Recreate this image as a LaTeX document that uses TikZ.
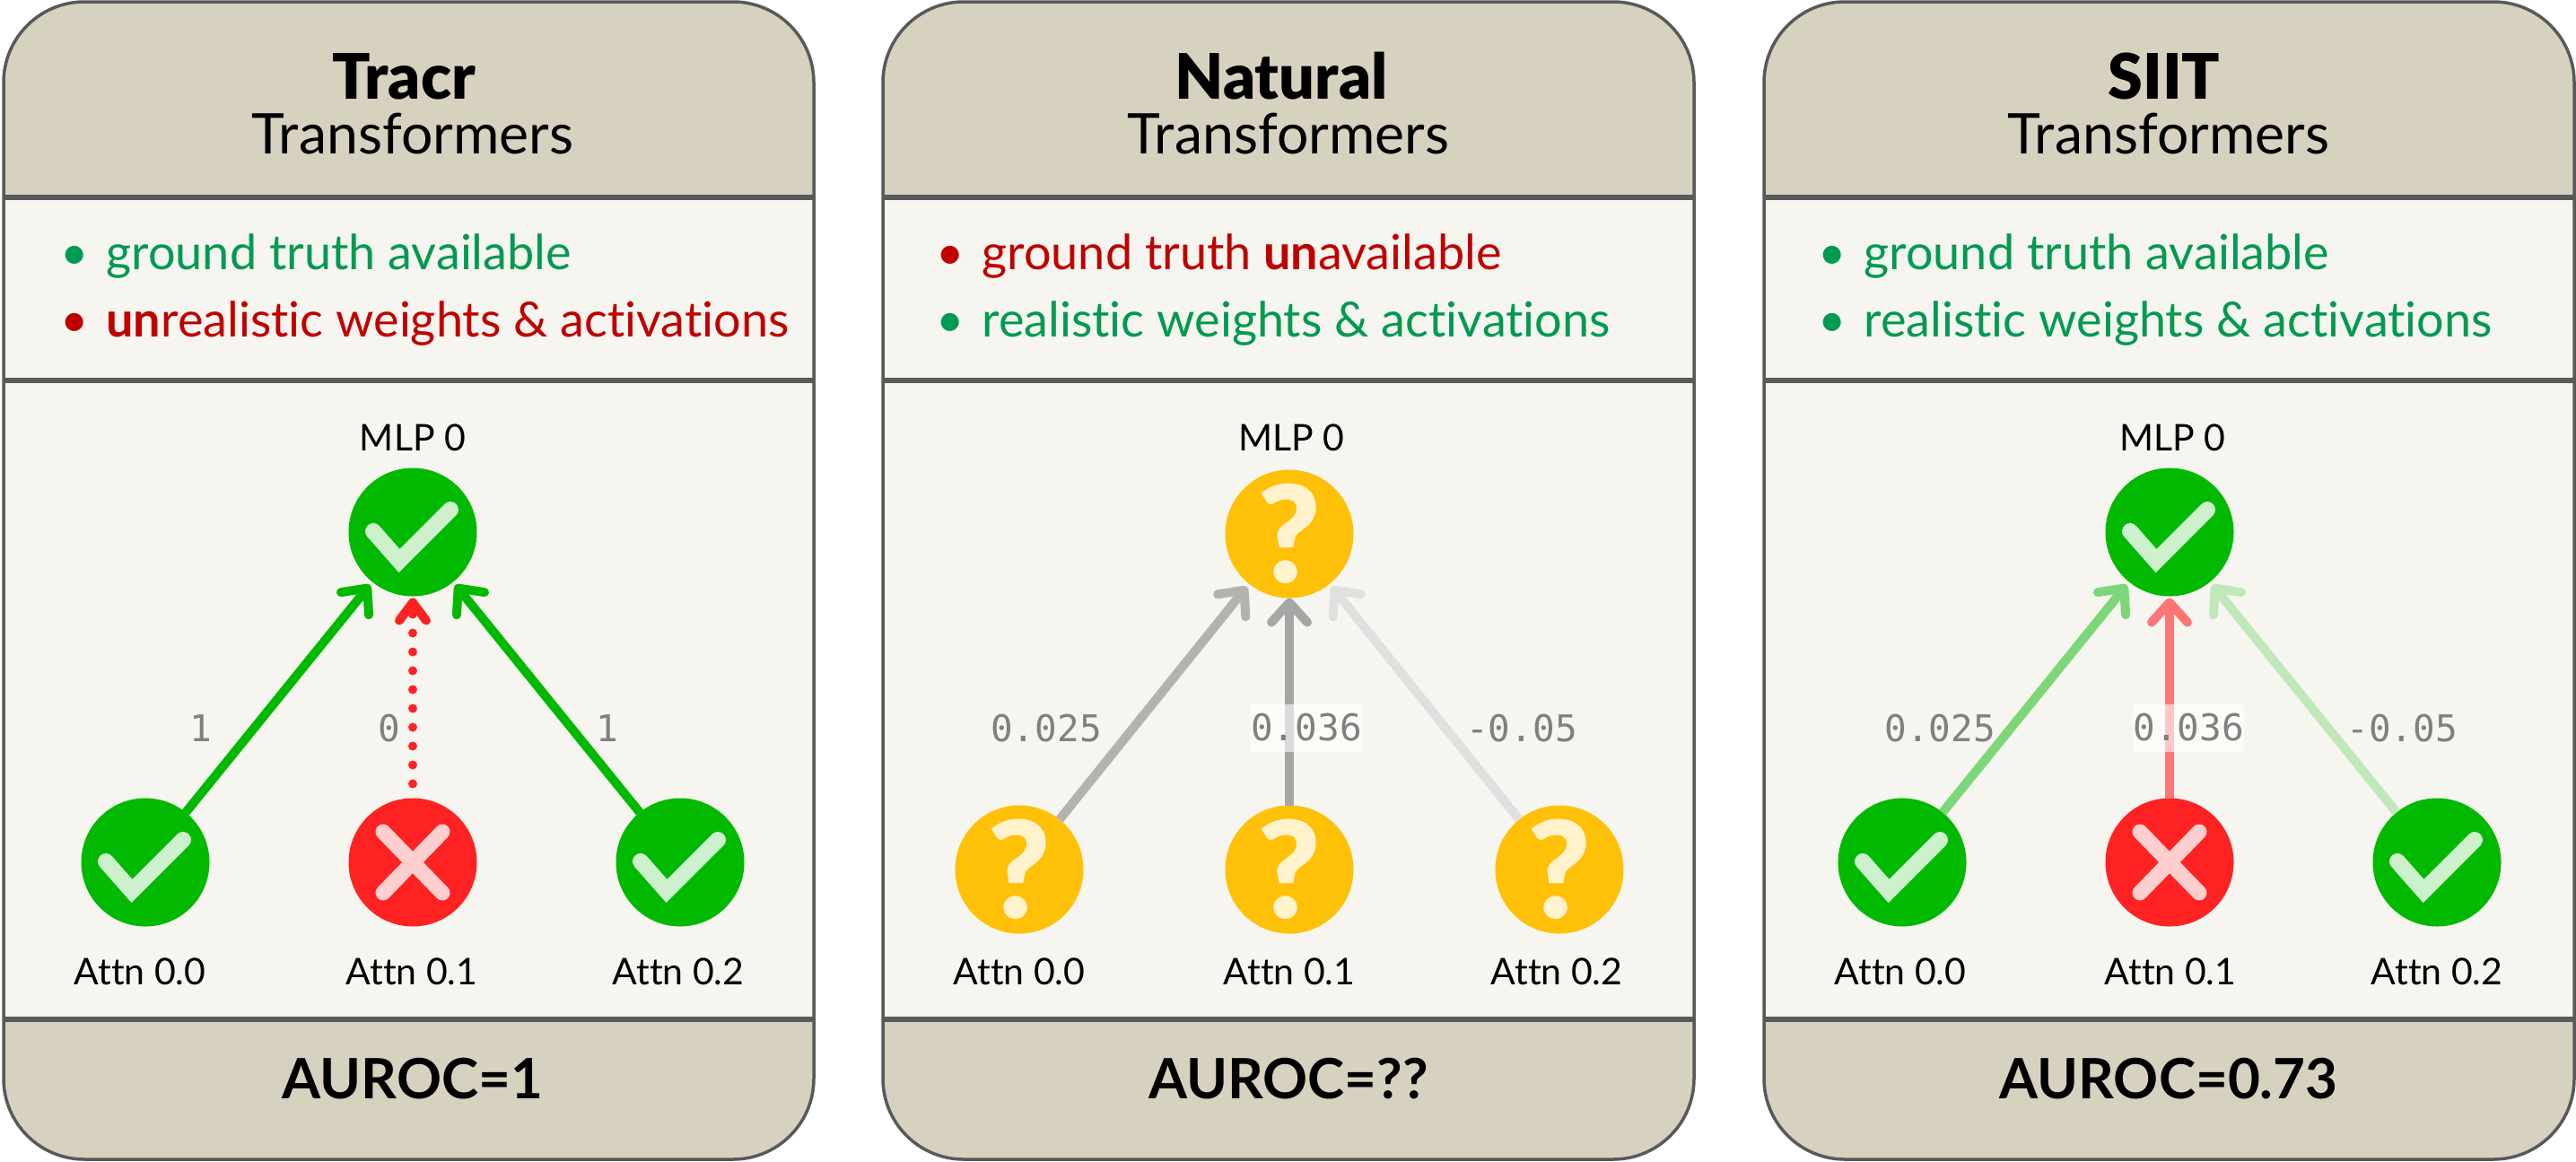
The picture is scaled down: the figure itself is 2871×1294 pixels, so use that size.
\documentclass[tikz,border=0pt]{standalone}
\usepackage{fontspec}
\setmainfont{Lato}[Ligatures=NoCommon]
\setmonofont{DejaVu Sans Mono}
\newfontfamily\heavyfont{Lato Black}
\usepackage{tikz}
\usetikzlibrary{matrix,arrows.meta}

\definecolor{headtan}{HTML}{D7D1BF}
\definecolor{bodycream}{HTML}{F6F5EF}
\definecolor{framegrey}{HTML}{595959}
\definecolor{okgreen}{HTML}{00B900}
\definecolor{okpale}{HTML}{CDF0CD}
\definecolor{badred}{HTML}{FF2222}
\definecolor{badpale}{HTML}{FFCFCF}
\definecolor{askamber}{HTML}{FFC107}
\definecolor{askpale}{HTML}{FFF2CC}
\definecolor{goodtext}{HTML}{009A50}
\definecolor{badtext}{HTML}{C00000}

\tikzset{
  headfill/.style={fill=headtan},
  bodyfill/.style={fill=bodycream},
  frameline/.style={draw=framegrey,line width=3.5pt,rounded corners=90pt},
  divider/.style={draw=framegrey,line width=6pt},
  titletext/.style={anchor=base,inner sep=0pt,font=\heavyfont\fontsize{70}{84}\selectfont},
  subtext/.style={anchor=base,inner sep=0pt,font=\fontsize{62.5}{74}\selectfont},
  scoretext/.style={anchor=base,inner sep=0pt,font=\bfseries\fontsize{62}{74}\selectfont},
  pointtext/.style={anchor=base west,inner sep=0pt,font=\fontsize{54}{64}\selectfont},
  nametext/.style={anchor=base,inner sep=0pt,font=\fontsize{41}{50}\selectfont},
  weighttext/.style={inner sep=0pt,text=black!50,font=\ttfamily\fontsize{41}{49}\selectfont},
  weightbox/.style={weighttext,fill=white,fill opacity=.6,text opacity=1,minimum width=120pt,minimum height=53pt},
  disc/.style={circle,inner sep=0pt,outer sep=0pt,minimum size=143pt},
  okdisc/.style={disc,fill=okgreen,path picture={
    \draw[okpale,line width=18pt,line cap=round,miter limit=10]
      ([shift={(-44,-1)}]path picture bounding box.center)
      --([shift={(-15,32)}]path picture bounding box.center)
      --([shift={(42,-25)}]path picture bounding box.center);}},
  baddisc/.style={disc,fill=badred,path picture={
    \draw[badpale,line width=17pt,line cap=round]
      ([shift={(-33,-34)}]path picture bounding box.center)--([shift={(33,34)}]path picture bounding box.center);
    \draw[badpale,line width=17pt,line cap=round]
      ([shift={(33,-34)}]path picture bounding box.center)--([shift={(-33,34)}]path picture bounding box.center);}},
  askdisc/.style={disc,fill=askamber,text=askpale,font=\heavyfont\fontsize{150}{150}\selectfont},
  weightarrow/.style={line width=10pt,-{Straight Barb[round,length=22pt,width=40pt]},shorten >=4pt},
}

\begin{document}
\begin{tikzpicture}[x=1pt,y=-1pt]
\useasboundingbox (0,0) rectangle (2871,1294);

% Tracr
\path[bodyfill,rounded corners=90pt] (4,2) rectangle (907,1292);
\path[headfill] (4,220) [rounded corners=90pt] -- (4,2) -- (907,2) [sharp corners] -- (907,220) -- cycle;
\path[headfill] (4,1136) [rounded corners=90pt] -- (4,1292) -- (907,1292) [sharp corners] -- (907,1136) -- cycle;
\draw[frameline] (4,2) rectangle (907,1292);
\draw[divider] (4,220)--(907,220);
\draw[divider] (4,424)--(907,424);
\draw[divider] (4,1136)--(907,1136);
\node[titletext] (title1) at (450,110) {Tracr};
\node[subtext] (sub1) at (460,171) {Transformers};
\node[pointtext,text=goodtext] (good1) at (67,300) {•\hspace{20pt}ground truth available};
\node[pointtext,text=badtext] (bad1) at (67,375) {•\hspace{20pt}\textbf{un}realistic weights \& activations};
\matrix (m1) at (460,777)[matrix of nodes,column sep=155pt,row sep=225pt]{
 & |[okdisc]| {} & \\
|[okdisc]| {} & |[baddisc]| {} & |[okdisc]| {} \\
};
\draw[weightarrow,okgreen] (m1-2-1)--(m1-1-2);
\draw[weightarrow,badred,dash pattern=on 0pt off 21pt,line cap=round,shorten <=16pt,shorten >=2pt,-{Straight Barb[round,length=20pt,width=30pt]}] (m1-2-2)--(m1-1-2);
\draw[weightarrow,okgreen] (m1-2-3)--(m1-1-2);
\node[nametext] (top1) at (460,502) {MLP 0};
\node[nametext] (a10) at (156,1097) {Attn 0.0};
\node[nametext] (a11) at (459,1097) {Attn 0.1};
\node[nametext] (a12) at (756,1097) {Attn 0.2};
\node[weighttext] (w10) at (224,812) {1};
\node[weighttext] (w11) at (434,812) {0};
\node[weighttext] (w12) at (677,812) {1};
\node[scoretext] (score1) at (460,1224) {AUROC=1};

% Natural
\path[bodyfill,rounded corners=90pt] (984,2) rectangle (1888,1292);
\path[headfill] (984,220) [rounded corners=90pt] -- (984,2) -- (1888,2) [sharp corners] -- (1888,220) -- cycle;
\path[headfill] (984,1136) [rounded corners=90pt] -- (984,1292) -- (1888,1292) [sharp corners] -- (1888,1136) -- cycle;
\draw[frameline] (984,2) rectangle (1888,1292);
\draw[divider] (984,220)--(1888,220);
\draw[divider] (984,424)--(1888,424);
\draw[divider] (984,1136)--(1888,1136);
\node[titletext] (title2) at (1428,110) {Natural};
\node[subtext] (sub2) at (1436,171) {Transformers};
\node[pointtext,text=badtext] (bad2) at (1043,300) {•\hspace{20pt}ground truth \textbf{un}available};
\node[pointtext,text=goodtext] (good2) at (1043,375) {•\hspace{20pt}realistic weights \& activations};
\matrix (m2) at (1437,782)[matrix of nodes,column sep=158pt,row sep=231pt]{
 & |[askdisc]| ? & \\
|[askdisc]| ? & |[askdisc]| ? & |[askdisc]| ? \\
};
\draw[weightarrow,black!25!bodycream!90!gray] (m2-2-1)--(m2-1-2);
\draw[weightarrow,black!35,shorten >=0pt] (m2-2-2)--(m2-1-2);
\draw[weightarrow,black!12] (m2-2-3)--(m2-1-2);
\node[nametext] (top2) at (1439,502) {MLP 0};
\node[nametext] (a20) at (1136,1097) {Attn 0.0};
\node[nametext] (a21) at (1437,1097) {Attn 0.1};
\node[nametext] (a22) at (1735,1097) {Attn 0.2};
\node[weighttext] (w20) at (1166,812) {0.025};
\node[weightbox] (w21) at (1456,811) {0.036};
\node[weighttext] (w22) at (1696,812) {-0.05};
\node[scoretext] (score2) at (1436,1224) {AUROC=??};

% SIIT
\path[bodyfill,rounded corners=90pt] (1966,2) rectangle (2869,1292);
\path[headfill] (1966,220) [rounded corners=90pt] -- (1966,2) -- (2869,2) [sharp corners] -- (2869,220) -- cycle;
\path[headfill] (1966,1136) [rounded corners=90pt] -- (1966,1292) -- (2869,1292) [sharp corners] -- (2869,1136) -- cycle;
\draw[frameline] (1966,2) rectangle (2869,1292);
\draw[divider] (1966,220)--(2869,220);
\draw[divider] (1966,424)--(2869,424);
\draw[divider] (1966,1136)--(2869,1136);
\node[titletext] (title3) at (2412,110) {SIIT};
\node[subtext] (sub3) at (2417,171) {Transformers};
\node[pointtext,text=goodtext] (good3) at (2026,300) {•\hspace{20pt}ground truth available};
\node[pointtext,text=goodtext] (good4) at (2026,375) {•\hspace{20pt}realistic weights \& activations};
\matrix (m3) at (2418,777)[matrix of nodes,column sep=155pt,row sep=225pt]{
 & |[okdisc]| {} & \\
|[okdisc]| {} & |[baddisc]| {} & |[okdisc]| {} \\
};
\draw[weightarrow,okgreen!50!bodycream] (m3-2-1)--(m3-1-2);
\draw[weightarrow,badred!60!bodycream,shorten >=2pt] (m3-2-2)--(m3-1-2);
\draw[weightarrow,okgreen!22!bodycream] (m3-2-3)--(m3-1-2);
\node[nametext] (top3) at (2421,502) {MLP 0};
\node[nametext] (a30) at (2118,1097) {Attn 0.0};
\node[nametext] (a31) at (2419,1097) {Attn 0.1};
\node[nametext] (a32) at (2716,1097) {Attn 0.2};
\node[weighttext] (w30) at (2162,812) {0.025};
\node[weightbox] (w31) at (2439,811) {0.036};
\node[weighttext] (w32) at (2677,812) {-0.05};
\node[scoretext] (score3) at (2417,1224) {AUROC=0.73};

\end{tikzpicture}
\end{document}
